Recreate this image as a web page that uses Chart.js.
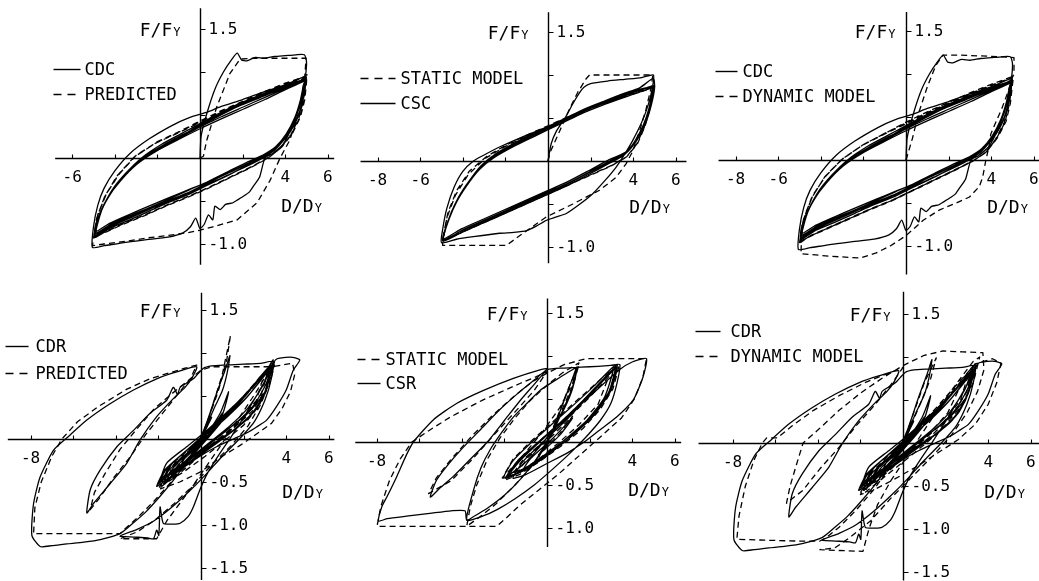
<!DOCTYPE html>
<html>
<head>
<meta charset="utf-8">
<script src="https://cdn.jsdelivr.net/npm/chart.js@4.4.1/dist/chart.umd.min.js"></script>
<style>
  html, body { margin: 0; padding: 0; background: #fff; overflow: hidden; width: 1039px; height: 581px; }
  #stage { position: relative; width: 1039px; height: 581px; overflow: hidden; background: #fff; }
  #stage canvas { position: absolute; }
</style>
</head>
<body>
<div id="stage"></div>
<script>
// Hysteresis records: x = D/Dy (ductility), y = F/Fy (normalised force)

// CDC test record (constant-amplitude dynamic cycling)
const cdcMeasured = [
  [0,0],[0.05,0.25],[0.3,0.5],[0.7,0.8],[1.1,1.0],[1.5,1.15],[1.75,1.22],[1.95,1.14],[2.2,1.13],[2.6,1.17],[3.0,1.16],[3.5,1.18],[4.0,1.19],[4.5,1.2],[4.9,1.2],[5.0,1.12],
  [4.95,0.95],[4.8,0.75],[4.6,0.55],[4.3,0.35],[3.9,0.16],[3.4,0.05],[3.05,0.0],[2.8,-0.22],[2.5,-0.33],[2.3,-0.4],[2.0,-0.45],[1.55,-0.52],[1.2,-0.54],[0.95,-0.6],[0.7,-0.56],[0.6,-0.72],[0.4,-0.66],[0.2,-0.77],[0.0,-0.82],[-0.2,-0.7],[-0.45,-0.8],[-0.8,-0.87],[-1.5,-0.92],[-2.5,-0.95],[-3.5,-0.98],[-4.5,-1.02],[-5.05,-1.04],
  [-5.0,-0.8],[-4.8,-0.55],[-4.5,-0.35],[-4.0,-0.15],[-3.3,0.05],[-2.4,0.22],[-1.3,0.38],[-0.5,0.47],[0.3,0.53],[1.0,0.6],[2.0,0.68],[3.0,0.77],[4.0,0.85],[4.95,0.95],
  [4.92,0.89],[4.78,0.7],[4.55,0.51],[4.15,0.3],[3.68,0.14],[3.13,0.03],[2.34,-0.07],[1.41,-0.19],[0.47,-0.3],[-0.47,-0.4],[-1.41,-0.5],[-2.34,-0.59],[-3.28,-0.69],[-4.22,-0.79],[-4.95,-0.9],
  [-4.7,-0.65],[-4.22,-0.42],[-3.6,-0.22],[-2.8,-0.03],[-1.9,0.12],[-0.95,0.24],[0,0.39],[0.95,0.51],[1.75,0.62],[2.8,0.72],[3.75,0.82],[4.7,0.9],[4.96,0.93],
  [4.86,0.85],[4.7,0.66],[4.45,0.47],[4.05,0.28],[3.55,0.13],[3.0,0.04],[2.2,-0.05],[1.3,-0.16],[0.4,-0.27],[-0.5,-0.37],[-1.4,-0.47],[-2.3,-0.57],[-3.3,-0.67],[-4.2,-0.77],[-4.88,-0.87],
  [-4.6,-0.6],[-4.1,-0.38],[-3.5,-0.19],[-2.7,0.0],[-1.8,0.14],[-0.9,0.26],[0,0.37],[0.9,0.49],[1.8,0.6],[2.8,0.7],[3.8,0.8],[4.7,0.88],[4.92,0.91],
  [4.95,0.9],[4.85,0.72],[4.62,0.5],[4.22,0.3],[3.72,0.15],[3.2,0.04],[2.4,-0.06],[1.5,-0.18],[0.5,-0.29],[-0.5,-0.4],[-1.5,-0.5],[-2.4,-0.6],[-3.3,-0.7],[-4.2,-0.8],[-4.92,-0.91],
  [-4.76,-0.68],[-4.3,-0.45],[-3.7,-0.25],[-2.9,-0.05],[-2.0,0.1],[-1.0,0.23],[0,0.36],[1.0,0.48],[2.0,0.59],[3.0,0.7],[4.0,0.81],[4.8,0.9],[5.0,0.94],
  [4.9,0.87],[4.76,0.68],[4.5,0.49],[4.1,0.29],[3.6,0.13],[3.06,0.03],[2.3,-0.06],[1.35,-0.17],[0.45,-0.28],[-0.45,-0.39],[-1.45,-0.49],[-2.35,-0.58],[-3.25,-0.68],[-4.2,-0.78],[-4.9,-0.88],
  [-4.66,-0.63],[-4.18,-0.4],[-3.55,-0.21],[-2.75,-0.02],[-1.85,0.13],[-0.92,0.25],[0,0.38],[0.92,0.5],[1.78,0.61],[2.8,0.71],[3.78,0.81],[4.72,0.89],[4.9,0.9],
  [4.96,0.88],[4.86,0.7],[4.64,0.5],[4.25,0.31],[3.76,0.16],[3.25,0.06],[2.45,-0.04],[1.55,-0.15],[0.55,-0.26],[-0.45,-0.36],[-1.45,-0.46],[-2.4,-0.56],[-3.35,-0.66],[-4.25,-0.76],[-4.94,-0.86],
  [-4.8,-0.7],[-4.35,-0.47],[-3.75,-0.27],[-2.95,-0.07],[-2.05,0.08],[-1.05,0.21],[0,0.34],[1.05,0.46],[2.05,0.57],[3.05,0.68],[4.05,0.8],[4.85,0.89],[5.0,0.92],
  [4.88,0.84],[4.72,0.64],[4.48,0.46],[4.08,0.27],[3.58,0.11],[3.02,0.01],[2.25,-0.09],[1.3,-0.2],[0.4,-0.31],[-0.5,-0.42],[-1.5,-0.52],[-2.4,-0.62],[-3.3,-0.72],[-4.25,-0.82],[-4.93,-0.92],
  [-4.62,-0.6],[-4.12,-0.37],[-3.5,-0.18],[-2.7,0.01],[-1.8,0.16],[-0.9,0.28],[0,0.4],[0.9,0.52],[1.8,0.63],[2.8,0.73],[3.8,0.83],[4.7,0.9],[4.92,0.92]
];

const cdcPredicted = [
  [0,0],[0.16,0.02],[0.31,0.2],[0.78,0.59],[1.4,0.98],[1.88,1.15],[2.5,1.16],[3.5,1.16],[4.5,1.16],[4.98,1.16],
  [4.92,0.95],[4.78,0.72],[4.55,0.45],[4.2,0.2],[3.76,0.0],[3.29,-0.26],[2.68,-0.52],[1.74,-0.72],[0.61,-0.8],[0,-0.84],[-0.61,-0.87],[-1.5,-0.9],[-2.5,-0.93],[-3.5,-0.97],[-4.5,-1.0],[-5.05,-1.02],
  [-4.98,-0.9],[-4.82,-0.68],[-4.45,-0.44],[-3.85,-0.2],[-3.05,0.02],[-2.05,0.18],[-1.0,0.3],[0,0.42],[1.0,0.54],[2.0,0.65],[3.0,0.76],[4.0,0.86],[4.9,0.94],[5.02,0.97],
  [5.0,0.88],[4.92,0.68],[4.72,0.48],[4.35,0.29],[3.85,0.13],[3.3,0.02],[2.5,-0.09],[1.5,-0.21],[0.5,-0.33],[-0.5,-0.44],[-1.5,-0.54],[-2.5,-0.65],[-3.5,-0.75],[-4.4,-0.85],[-4.98,-0.93],
  [-4.85,-0.7],[-4.48,-0.45],[-3.9,-0.21],[-3.1,0.01],[-2.1,0.17],[-1.05,0.29],[0,0.41],[1.05,0.53],[2.05,0.64],[3.05,0.75],[4.05,0.85],[4.92,0.93],[5.0,0.95],
  [4.97,0.86],[4.88,0.67],[4.68,0.47],[4.3,0.28],[3.8,0.12],[3.25,0.01],[2.45,-0.1],[1.45,-0.22],[0.45,-0.34],[-0.55,-0.45],[-1.55,-0.55],[-2.55,-0.66],[-3.55,-0.76],[-4.45,-0.86],[-4.98,-0.92],
  [-4.8,-0.66],[-4.4,-0.42],[-3.8,-0.19],[-3.0,0.03],[-2.0,0.19],[-0.95,0.31],[0,0.43],[1.0,0.55],[2.0,0.66],[3.0,0.77],[4.0,0.87],[4.95,0.95],
  [4.94,0.84],[4.84,0.66],[4.64,0.46],[4.26,0.27],[3.76,0.11],[3.2,0.0],[2.4,-0.11],[1.4,-0.23],[0.4,-0.35],[-0.6,-0.46],[-1.6,-0.56],[-2.6,-0.67],[-3.6,-0.77],[-4.5,-0.87],[-4.98,-0.92]
];

const cdcDynamicModel = [
  [0,0],[0.1,0.08],[0.3,0.25],[0.6,0.55],[1.0,0.85],[1.4,1.1],[1.74,1.22],[2.5,1.22],[3.5,1.21],[4.5,1.2],[5.07,1.19],
  [5.07,1.02],[4.8,0.8],[4.5,0.6],[4.15,0.4],[3.98,0.3],[3.9,0.16],[3.75,0.0],[3.6,-0.2],[3.44,-0.31],[2.98,-0.43],[2.36,-0.5],[1.58,-0.58],[0.81,-0.7],[0,-0.88],[-0.74,-1.0],[-1.4,-1.08],[-2.14,-1.14],[-3.5,-1.12],[-4.93,-1.09],
  [-4.9,-0.85],[-4.72,-0.62],[-4.35,-0.4],[-3.75,-0.18],[-2.95,0.02],[-2.0,0.18],[-1.0,0.31],[0,0.43],[1.0,0.55],[2.0,0.66],[3.0,0.77],[4.0,0.87],[4.9,0.95],[5.05,0.98],
  [5.0,0.88],[4.9,0.66],[4.7,0.45],[4.3,0.26],[3.8,0.1],[3.2,0.0],[2.4,-0.1],[1.4,-0.22],[0.4,-0.34],[-0.6,-0.46],[-1.6,-0.56],[-2.6,-0.67],[-3.6,-0.78],[-4.5,-0.88],[-5.0,-0.97],
  [-4.85,-0.72],[-4.45,-0.45],[-3.85,-0.21],[-3.05,0.0],[-2.05,0.17],[-1.02,0.3],[0,0.42],[1.02,0.54],[2.02,0.65],[3.02,0.76],[4.02,0.86],[4.95,0.96],
  [4.95,0.86],[4.85,0.65],[4.65,0.44],[4.25,0.25],[3.75,0.09],[3.15,-0.01],[2.35,-0.11],[1.35,-0.23],[0.35,-0.35],[-0.65,-0.47],[-1.65,-0.57],[-2.65,-0.68],[-3.65,-0.79],[-4.55,-0.89],[-5.0,-0.96],
  [-4.8,-0.68],[-4.4,-0.43],[-3.8,-0.19],[-3.0,0.01],[-2.0,0.18],[-0.98,0.31],[0,0.44],[1.0,0.56],[2.0,0.67],[3.0,0.78],[4.0,0.88],[5.0,0.97],
  [4.92,0.84],[4.8,0.64],[4.6,0.43],[4.2,0.24],[3.7,0.08],[3.1,-0.02],[2.3,-0.12],[1.3,-0.24],[0.3,-0.36],[-0.7,-0.48],[-1.7,-0.58],[-2.7,-0.69],[-3.7,-0.8],[-4.6,-0.9],[-5.0,-0.95]
];

// CSC test record (constant-amplitude static cycling)
const cscMeasured = [
  [0,0],[0.15,0.2],[0.4,0.35],[0.8,0.5],[1.2,0.68],[1.5,0.8],[1.7,0.86],[2.0,0.9],[2.8,0.93],[3.6,0.95],[4.4,0.97],[4.95,1.0],
  [4.9,0.85],[4.7,0.65],[4.4,0.45],[3.98,0.24],[3.6,0.08],[3.2,-0.07],[2.7,-0.22],[2.1,-0.38],[1.5,-0.5],[0.86,-0.61],[0.4,-0.65],[-0.08,-0.69],[-0.5,-0.75],[-1.0,-0.81],[-1.6,-0.83],[-2.27,-0.84],[-3.5,-0.88],[-4.3,-0.91],[-5.0,-0.95],
  [-4.95,-0.8],[-4.75,-0.55],[-4.4,-0.3],[-4.0,-0.12],[-3.5,0.0],[-3.0,0.07],[-2.3,0.16],[-1.3,0.27],[0,0.4],[1.0,0.5],[1.7,0.58],[2.5,0.68],[3.5,0.78],[4.3,0.85],[4.95,0.96],
  [5.0,0.84],[4.85,0.65],[4.6,0.45],[4.2,0.25],[3.7,0.1],[2.9,0.0],[2.0,-0.12],[1.0,-0.25],[0,-0.36],[-1.0,-0.47],[-2.0,-0.58],[-3.0,-0.69],[-4.0,-0.8],[-4.95,-0.93],
  [-4.7,-0.7],[-4.3,-0.47],[-3.8,-0.27],[-3.2,-0.08],[-2.5,0.06],[-1.5,0.2],[-0.5,0.32],[0.5,0.44],[1.5,0.56],[2.5,0.66],[3.5,0.75],[4.3,0.82],[5.0,0.88],
  [4.95,0.8],[4.8,0.62],[4.55,0.43],[4.15,0.24],[3.65,0.09],[2.85,-0.01],[1.95,-0.13],[0.95,-0.26],[-0.05,-0.37],[-1.05,-0.48],[-2.05,-0.59],[-3.05,-0.7],[-4.05,-0.81],[-4.92,-0.92],
  [-4.65,-0.67],[-4.25,-0.45],[-3.75,-0.25],[-3.15,-0.06],[-2.45,0.07],[-1.45,0.21],[-0.45,0.33],[0.55,0.45],[1.55,0.57],[2.55,0.67],[3.55,0.76],[4.35,0.83],[4.98,0.87],
  [4.92,0.78],[4.76,0.6],[4.5,0.41],[4.1,0.22],[3.6,0.08],[2.8,-0.02],[1.9,-0.14],[0.9,-0.27],[-0.1,-0.38],[-1.1,-0.49],[-2.1,-0.6],[-3.1,-0.71],[-4.1,-0.82],[-4.9,-0.91],
  [-4.6,-0.64],[-4.2,-0.42],[-3.7,-0.23],[-3.1,-0.05],[-2.4,0.08],[-1.4,0.22],[-0.4,0.34],[0.6,0.46],[1.6,0.58],[2.6,0.68],[3.6,0.77],[4.4,0.83],[4.95,0.86],
  [4.9,0.8],[4.74,0.61],[4.48,0.42],[4.08,0.23],[3.58,0.07],[2.78,-0.04],[1.88,-0.16],[0.88,-0.29],[-0.12,-0.4],[-1.12,-0.51],[-2.12,-0.62],[-3.12,-0.73],[-4.12,-0.84],[-4.92,-0.93],
  [-4.72,-0.72],[-4.32,-0.49],[-3.82,-0.29],[-3.22,-0.1],[-2.52,0.04],[-1.52,0.18],[-0.52,0.3],[0.48,0.42],[1.48,0.54],[2.48,0.64],[3.48,0.73],[4.3,0.8],[4.96,0.85],
  [4.94,0.79],[4.79,0.62],[4.53,0.43],[4.13,0.24],[3.63,0.1],[2.83,0.01],[1.93,-0.11],[0.93,-0.24],[-0.07,-0.35],[-1.07,-0.46],[-2.07,-0.57],[-3.07,-0.68],[-4.07,-0.79],[-4.9,-0.9],
  [-4.62,-0.66],[-4.22,-0.44],[-3.72,-0.24],[-3.12,-0.05],[-2.42,0.09],[-1.42,0.23],[-0.42,0.35],[0.58,0.47],[1.58,0.59],[2.58,0.69],[3.58,0.78],[4.38,0.84],[4.95,0.87]
];

const staticModelCsc = [
  [0,0],[0.1,0.1],[0.55,0.35],[1.0,0.6],[1.4,0.8],[1.8,0.96],[1.95,1.0],[3.0,1.0],[4.0,1.0],[4.92,1.0],
  [4.85,0.86],[4.6,0.6],[4.3,0.35],[3.95,0.1],[3.67,-0.03],[3.2,-0.19],[2.42,-0.34],[1.17,-0.5],[-0.08,-0.65],[-1.0,-0.81],[-1.95,-0.98],[-3.0,-0.98],[-4.0,-0.98],[-4.95,-0.98],
  [-4.9,-0.85],[-4.7,-0.6],[-4.3,-0.35],[-3.7,-0.12],[-2.9,0.05],[-2.0,0.18],[-1.0,0.3],[0,0.41],[1.0,0.52],[2.0,0.62],[3.0,0.71],[4.0,0.79],[4.95,0.86],
  [4.9,0.8],[4.78,0.6],[4.55,0.4],[4.2,0.2],[3.7,0.05],[3.0,-0.05],[2.0,-0.16],[1.0,-0.27],[0,-0.38],[-1.0,-0.49],[-2.0,-0.6],[-3.0,-0.71],[-4.0,-0.82],[-4.92,-0.93],
  [-4.75,-0.66],[-4.35,-0.4],[-3.75,-0.16],[-2.95,0.03],[-2.0,0.17],[-1.0,0.29],[0,0.4],[1.0,0.51],[2.0,0.61],[3.0,0.7],[4.0,0.78],[4.95,0.85],
  [4.88,0.78],[4.75,0.58],[4.5,0.38],[4.15,0.19],[3.65,0.04],[2.95,-0.06],[1.95,-0.17],[0.95,-0.28],[-0.05,-0.39],[-1.05,-0.5],[-2.05,-0.61],[-3.05,-0.72],[-4.05,-0.83],[-4.9,-0.92]
];

// CDR test record (random dynamic loading)
const cdrMeasured = [
  [0,0],[0.3,0.15],[-0.2,-0.1],[0.5,0.25],[-0.4,-0.2],[0.1,0.05],
  [-0.2,-0.09],[0.19,0.14],[0.42,0.3],[0.66,0.48],[0.89,0.64],[1.13,0.8],[1.36,0.97],[1.22,0.76],[1.0,0.56],[0.66,0.38],[0.3,0.18],[0,0.02],
  [-0.5,-0.2],[-1.2,-0.45],[-1.9,-0.66],[-2.6,-0.85],[-3.2,-0.98],[-3.8,-1.1],
  [-4.73,-1.17],[-5.5,-1.2],[-6.3,-1.22],[-7.0,-1.24],[-7.55,-1.25],[-7.94,-1.12],
  [-7.86,-0.75],[-7.55,-0.44],[-6.92,-0.13],[-6.22,0.03],[-5.36,0.22],[-4.27,0.41],[-3.17,0.57],[-2.08,0.7],[-1.14,0.78],[-0.2,0.84],
  [-0.4,0.72],[-0.75,0.6],[-1.3,0.47],[-2.08,0.26],[-2.86,-0.01],[-3.48,-0.28],[-4.27,-0.52],[-5.05,-0.75],[-5.36,-0.86],
  [-5.2,-0.59],[-4.73,-0.36],[-3.95,-0.09],[-3.17,0.1],[-2.39,0.3],[-1.61,0.45],[-1.3,0.6],[-1.1,0.52],[-0.98,0.6],[-0.36,0.7],[0.1,0.82],[0.5,0.85],
  [1.2,0.86],[2.0,0.87],[2.8,0.88],[3.39,0.9],
  [3.3,0.7],[3.0,0.45],[2.5,0.2],[1.8,0.0],[1.0,-0.2],[0.2,-0.42],[-0.6,-0.62],[-1.4,-0.8],[-2.2,-0.95],[-3.0,-1.05],[-3.8,-1.13],
  [-3.17,-1.14],[-2.5,-1.15],[-2.23,-1.16],[-2.08,-1.06],[-1.98,-1.12],[-1.92,-0.79],[-1.77,-0.98],[-1.3,-0.99],[-0.98,-0.98],[-0.6,-0.9],[-0.36,-0.79],[-0.05,-0.59],[0.3,-0.4],[0.8,-0.2],[1.4,0.02],[2.0,0.25],[2.6,0.5],[3.1,0.72],[3.45,0.9],
  [3.23,0.72],[2.92,0.49],[2.3,0.26],[1.52,0.1],[0.58,-0.05],[-0.36,-0.21],[-1.3,-0.36],[-1.92,-0.5],
  [-1.61,-0.28],[-0.67,-0.09],[0.27,0.1],[1.52,0.38],[2.45,0.61],[3.08,0.8],[3.39,0.92],
  [3.1,0.6],[2.6,0.35],[1.8,0.15],[0.9,-0.02],[0,-0.18],[-0.9,-0.33],[-1.7,-0.5],
  [-1.4,-0.3],[-0.5,-0.1],[0.4,0.08],[1.3,0.28],[2.2,0.5],[2.9,0.72],[3.3,0.85],
  [3.0,0.55],[2.4,0.3],[1.5,0.1],[0.6,-0.06],[-0.3,-0.22],[-1.2,-0.4],[-1.85,-0.55],
  [-1.5,-0.32],[-0.6,-0.12],[0.3,0.06],[1.2,0.25],[2.1,0.47],[2.8,0.68],[3.25,0.82],[3.5,0.92],[3.7,0.94],[4.3,0.95],[4.64,0.92],
  [4.33,0.8],[4.0,0.57],[3.55,0.38],[3.08,0.22],[2.61,0.14],[2.14,0.07],[1.52,0.0],[0.73,-0.09],[-0.05,-0.2],[-0.98,-0.36],[-1.77,-0.5],[-2.08,-0.55],
  [-1.7,-0.36],[-0.9,-0.18],[0,0.02],[1.0,0.25],[2.0,0.5],[2.8,0.72],[3.3,0.86],
  [3.0,0.55],[2.2,0.3],[1.2,0.1],[0.2,-0.1],[-0.8,-0.3],[-1.6,-0.48],
  [-1.2,-0.3],[-0.2,-0.08],[0.8,0.16],[1.8,0.42],[2.6,0.66],[3.2,0.84],
  [2.9,0.62],[2.2,0.36],[1.3,0.14],[0.3,-0.06],[-0.7,-0.26],[-1.6,-0.44],[-2.0,-0.52],
  [-1.6,-0.34],[-0.8,-0.16],[0.2,0.06],[1.1,0.26],[1.9,0.46],[2.7,0.7],[3.35,0.88],
  [3.05,0.64],[2.5,0.4],[1.7,0.2],[0.7,0.0],[-0.3,-0.2],[-1.3,-0.38],[-1.9,-0.48],
  [-1.1,-0.26],[0.1,0.0],[0.9,0.3],[1.3,0.55],[1.0,0.28],[0.3,0.02],[-0.6,-0.22],[-1.4,-0.42],
  [-1.0,-0.28],[0,-0.05],[0.8,0.15],[1.5,0.38],[0.9,0.18],[0,-0.08],[-1.0,-0.35],[-0.6,-0.15],[0.5,0.12],[1.0,0.3],[0.4,0.05],[-0.4,-0.18],[0,0]
];

const cdrPredicted = [
  [0,0],[0.3,0.17],[-0.2,-0.1],[0.5,0.28],[-0.4,-0.2],[0.1,0.05],
  [0.5,0.35],[1.0,0.75],[1.38,1.2],[1.2,0.9],[0.8,0.55],[0.3,0.2],[0,0.02],
  [-0.6,-0.25],[-1.4,-0.5],[-2.2,-0.72],[-3.0,-0.92],[-3.6,-1.05],[-3.8,-1.1],
  [-5.0,-1.1],[-6.5,-1.1],[-7.86,-1.1],
  [-7.8,-0.8],[-7.5,-0.5],[-7.0,-0.2],[-6.53,0.0],[-5.8,0.2],[-4.8,0.38],[-3.48,0.58],[-2.4,0.7],[-1.61,0.76],[-0.8,0.82],[-0.2,0.86],
  [-0.5,0.7],[-1.0,0.55],[-1.8,0.3],[-2.6,0.05],[-3.3,-0.2],[-4.1,-0.45],[-4.8,-0.7],[-5.2,-0.82],
  [-5.0,-0.62],[-4.5,-0.4],[-3.8,-0.12],[-3.0,0.12],[-2.2,0.35],[-1.4,0.52],[-0.6,0.68],[0,0.8],[0.5,0.84],
  [1.5,0.84],[2.5,0.84],[3.39,0.84],
  [3.2,0.65],[2.8,0.4],[2.2,0.15],[1.4,-0.08],[0.5,-0.3],[-0.4,-0.55],[-1.3,-0.76],[-2.2,-0.95],[-3.0,-1.08],[-3.8,-1.16],
  [-3.0,-1.16],[-2.08,-1.16],
  [-1.6,-0.95],[-1.0,-0.75],[-0.4,-0.55],[0.3,-0.3],[1.0,-0.05],[1.8,0.25],[2.6,0.55],[3.2,0.8],[3.45,0.86],
  [3.2,0.62],[2.7,0.38],[2.0,0.16],[1.1,-0.02],[0.2,-0.2],[-0.8,-0.38],[-1.7,-0.52],
  [-1.3,-0.3],[-0.4,-0.1],[0.5,0.1],[1.4,0.32],[2.3,0.56],[3.0,0.76],[3.35,0.85],
  [3.05,0.58],[2.4,0.32],[1.5,0.12],[0.6,-0.06],[-0.4,-0.25],[-1.3,-0.42],[-1.95,-0.56],
  [-1.4,-0.3],[-0.4,-0.08],[0.6,0.14],[1.6,0.38],[2.5,0.62],[3.3,0.84],[4.3,0.88],
  [4.4,0.75],[4.2,0.55],[3.8,0.35],[3.3,0.18],[2.45,0.03],[1.8,-0.08],[1.0,-0.2],[0,-0.38],[-1.0,-0.5],[-1.9,-0.58],
  [-1.4,-0.36],[-0.5,-0.14],[0.5,0.1],[1.5,0.35],[2.4,0.6],[3.0,0.78],
  [2.6,0.45],[1.8,0.2],[0.8,0.0],[-0.2,-0.2],[-1.2,-0.42],[-1.8,-0.54],
  [-1.2,-0.3],[-0.2,-0.06],[0.8,0.18],[1.8,0.44],[2.7,0.7],[3.2,0.82],
  [2.8,0.5],[2.0,0.24],[1.0,0.02],[0,-0.18],[-1.0,-0.4],[-1.6,-0.5],
  [-0.7,-0.2],[0.3,0.05],[1.2,0.3],[0.6,0.1],[-0.4,-0.16],[0,0]
];

const cdrDynamicModel = [
  [0,0],[0.3,0.17],[-0.2,-0.1],[0.5,0.28],[-0.4,-0.2],[0.1,0.05],
  [0.5,0.35],[1.0,0.7],[1.56,0.99],[1.3,0.75],[0.8,0.45],[0.2,0.1],
  [-0.6,-0.28],[-1.4,-0.55],[-2.2,-0.78],[-3.0,-0.98],[-3.6,-1.1],[-3.9,-1.14],
  [-5.0,-1.14],[-6.5,-1.13],[-7.8,-1.12],
  [-7.7,-0.85],[-7.4,-0.5],[-7.0,-0.2],[-6.6,0.0],[-6.4,0.06],[-5.9,0.06],[-5.2,0.2],[-4.2,0.38],[-3.0,0.55],[-1.8,0.7],[-0.6,0.82],[0,0.88],
  [-0.5,0.7],[-1.3,0.45],[-2.2,0.2],[-3.0,-0.05],[-3.9,-0.3],[-4.7,-0.55],[-5.47,-0.7],
  [-5.3,-0.5],[-5.0,-0.25],[-4.69,0.0],[-4.0,0.15],[-3.0,0.38],[-2.0,0.58],[-1.0,0.75],[0,0.9],[1.0,1.02],[1.88,1.07],
  [2.8,1.06],[3.75,1.05],
  [3.8,0.85],[3.5,0.6],[3.0,0.35],[2.3,0.1],[1.4,-0.15],[0.4,-0.4],[-0.6,-0.65],[-1.5,-0.9],[-2.5,-1.1],[-3.2,-1.22],[-3.9,-1.24],
  [-3.0,-1.25],[-1.88,-1.26],
  [-1.6,-1.0],[-1.2,-0.72],[-0.6,-0.45],[0.2,-0.15],[1.0,0.15],[1.8,0.45],[2.6,0.72],[3.3,0.95],[3.6,1.0],
  [3.3,0.7],[2.7,0.42],[1.9,0.18],[1.0,-0.02],[0,-0.22],[-1.0,-0.42],[-1.8,-0.58],
  [-1.3,-0.32],[-0.3,-0.08],[0.7,0.16],[1.7,0.42],[2.6,0.68],[3.3,0.9],
  [3.0,0.6],[2.3,0.32],[1.4,0.1],[0.4,-0.1],[-0.6,-0.3],[-1.6,-0.5],[-2.0,-0.58],
  [-1.4,-0.32],[-0.4,-0.08],[0.6,0.16],[1.6,0.42],[2.6,0.7],[3.4,0.92],[4.2,0.98],[4.6,0.93],
  [4.4,0.7],[4.0,0.45],[3.4,0.22],[2.6,0.04],[1.6,-0.12],[0.6,-0.28],[-0.4,-0.42],[-1.4,-0.55],[-2.0,-0.6],
  [-1.4,-0.36],[-0.4,-0.1],[0.6,0.15],[1.6,0.4],[2.5,0.65],[3.1,0.82],
  [2.7,0.5],[1.9,0.24],[0.9,0.02],[-0.1,-0.2],[-1.1,-0.42],[-1.7,-0.52],
  [-1.1,-0.28],[-0.1,-0.04],[0.9,0.2],[1.9,0.46],[2.8,0.72],
  [2.1,0.35],[1.2,0.1],[0.2,-0.12],[-0.9,-0.36],
  [-0.4,-0.12],[0.6,0.14],[1.2,0.32],[0.5,0.08],[-0.3,-0.12],[0,0]
];

// CSR test record (random static loading)
const csrMeasured = [
  [0,0],[0.3,0.12],[-0.2,-0.08],[0.5,0.2],[-0.4,-0.17],[0.1,0.04],
  [0.3,0.15],[0.8,0.48],[1.2,0.74],[1.39,0.87],[1.2,0.64],[0.8,0.4],[0.2,0.08],
  [-0.5,-0.2],[-1.2,-0.42],[-2.0,-0.62],[-2.8,-0.77],[-3.4,-0.86],[-3.77,-0.91],
  [-3.85,-0.8],[-4.5,-0.8],[-5.5,-0.83],[-6.5,-0.86],[-7.5,-0.89],[-7.91,-0.92],
  [-7.75,-0.75],[-7.52,-0.64],[-7.05,-0.4],[-6.6,-0.15],[-6.27,0.0],[-5.33,0.26],[-4.23,0.45],[-2.98,0.6],[-1.58,0.74],[-0.33,0.84],[0,0.85],
  [-0.5,0.7],[-1.2,0.5],[-2.0,0.25],[-2.8,0.0],[-3.6,-0.2],[-4.4,-0.4],[-5.0,-0.53],[-5.48,-0.64],
  [-5.2,-0.45],[-4.7,-0.28],[-4.0,-0.08],[-3.14,0.14],[-2.2,0.38],[-1.3,0.58],[-0.6,0.72],[0,0.84],
  [0.8,0.86],[1.6,0.87],[2.4,0.88],[3.0,0.89],[3.42,0.9],
  [3.3,0.7],[3.0,0.45],[2.5,0.25],[1.8,0.05],[1.0,-0.15],[0.2,-0.33],[-0.6,-0.5],[-1.5,-0.66],[-2.3,-0.78],[-3.0,-0.86],[-3.77,-0.91],
  [-3.45,-0.56],[-3.1,-0.3],[-2.67,-0.09],[-2.1,0.12],[-1.58,0.29],[-0.9,0.46],[-0.33,0.6],[0.4,0.72],[0.92,0.8],[1.39,0.86],
  [1.2,0.62],[0.8,0.38],[0.2,0.12],[-0.5,-0.1],[-1.2,-0.28],[-2.05,-0.42],
  [-1.6,-0.22],[-0.8,-0.02],[0.2,0.2],[1.2,0.42],[2.2,0.65],[3.0,0.85],[3.3,0.9],
  [3.0,0.62],[2.4,0.38],[1.6,0.18],[0.6,-0.02],[-0.4,-0.2],[-1.4,-0.36],[-1.9,-0.4],
  [-1.3,-0.2],[-0.3,0.02],[0.8,0.25],[1.8,0.5],[2.8,0.76],[3.2,0.86],
  [2.9,0.58],[2.1,0.3],[1.1,0.08],[0,-0.14],[-1.0,-0.3],[-1.7,-0.36],
  [-1.2,-0.2],[0,0.08],[1.2,0.35],[2.4,0.62],[3.4,0.84],[4.0,0.93],[4.67,0.97],
  [4.5,0.75],[4.05,0.49],[3.27,0.29],[2.48,0.14],[1.86,0.02],[1.0,-0.12],[0,-0.25],[-1.0,-0.38],[-1.6,-0.42],
  [-1.1,-0.22],[-0.1,0.02],[1.0,0.28],[2.0,0.54],[2.9,0.78],[3.3,0.87],
  [3.0,0.6],[2.3,0.34],[1.4,0.12],[0.4,-0.08],[-0.6,-0.26],[-1.5,-0.38],[-1.95,-0.42],
  [-1.4,-0.24],[-0.4,0.0],[0.6,0.22],[1.6,0.46],[2.6,0.72],[3.1,0.84],
  [2.7,0.52],[1.9,0.26],[0.9,0.04],[-0.1,-0.16],[-1.1,-0.32],
  [-0.8,-0.2],[0.3,0.05],[1.2,0.28],[0.6,0.08],[-0.4,-0.15],[0.2,0.02],[0,0]
];

const staticModelCsr = [
  [0,0],[0.3,0.14],[-0.2,-0.09],[0.5,0.22],[-0.4,-0.18],[0.1,0.05],
  [0.5,0.3],[1.0,0.62],[1.5,0.9],[1.25,0.68],[0.75,0.4],[0.2,0.1],
  [-0.6,-0.25],[-1.5,-0.5],[-2.4,-0.72],[-3.2,-0.88],[-3.77,-0.98],
  [-5.0,-0.98],[-6.5,-0.98],[-7.98,-0.98],
  [-7.8,-0.75],[-7.4,-0.45],[-6.9,-0.2],[-6.34,0.0],[-5.5,0.14],[-4.54,0.29],[-3.0,0.49],[-1.27,0.68],[-0.5,0.76],[0,0.82],
  [-0.6,0.6],[-1.5,0.35],[-2.5,0.08],[-3.5,-0.2],[-4.5,-0.45],[-5.56,-0.6],
  [-5.2,-0.42],[-4.5,-0.2],[-3.6,0.05],[-2.6,0.3],[-1.6,0.52],[-0.7,0.7],[0,0.8],[0.8,0.9],[1.86,0.97],
  [3.0,0.97],[4.0,0.97],[4.67,0.97],
  [4.5,0.75],[4.1,0.5],[3.5,0.28],[2.6,0.08],[1.6,-0.14],[0.6,-0.36],[-0.4,-0.56],[-1.3,-0.74],[-1.9,-0.88],[-2.36,-0.98],[-3.77,-0.98],
  [-3.6,-0.75],[-3.3,-0.5],[-2.8,-0.2],[-2.2,0.05],[-1.5,0.28],[-0.8,0.48],[0,0.66],[0.7,0.8],[1.5,0.92],
  [1.2,0.68],[0.6,0.4],[-0.2,0.12],[-1.0,-0.12],[-1.8,-0.34],[-2.1,-0.42],
  [-1.6,-0.2],[-0.7,0.02],[0.3,0.24],[1.3,0.46],[2.3,0.68],[3.1,0.86],[3.4,0.9],
  [3.1,0.62],[2.5,0.38],[1.7,0.16],[0.7,-0.04],[-0.3,-0.22],[-1.3,-0.38],[-1.95,-0.44],
  [-1.4,-0.22],[-0.4,0.0],[0.7,0.24],[1.7,0.48],[2.7,0.74],[3.3,0.88],
  [2.9,0.56],[2.1,0.28],[1.1,0.06],[0,-0.16],[-1.0,-0.32],[-1.7,-0.4],
  [-1.1,-0.2],[0.0,0.04],[1.0,0.28],[2.0,0.52],[2.9,0.76],
  [2.4,0.44],[1.5,0.2],[0.5,-0.02],[-0.5,-0.22],[-1.4,-0.36],
  [-0.9,-0.18],[0.2,0.06],[1.2,0.3],[0.6,0.1],[-0.4,-0.16],[0,0]
];

// Axis ticks and labelled values
const xTickValues = [-8, -6, -4, -2, 2, 4, 6];
const yTickValues = [1.5, 1.0, 0.5, -0.5, -1.0, -1.5];
const xLabelsNarrow = [-6, 4, 6];
const xLabelsWide = [-8, -6, 4, 6];
const xLabelsRandom = [-8, 4, 6];
const yLabelsTop = [1.5, -1.0];
const yLabelsFull = [1.5, -0.5, -1.0, -1.5];
const yLabelsMid = [1.5, -0.5, -1.0];

// ---- layout ----
const SX = 21.3, SY = 86;          // pixels per D/Dy unit, per F/Fy unit
const W = 364, H = 310, OX = 213, OY = 159;   // canvas size and origin offset inside it
const FONT = '"DejaVu Sans Mono", monospace';
const INK = '#000';

const panels = [
  { origin: [200, 158], xSpan: [-6.8, 6.3], ySpan: [1.74, -1.24], xLabels: xLabelsNarrow, yLabels: yLabelsTop,
    fRight: -20, dDown: 46, legend: { x: -147, y: -90, gap: 25, sample: 27, pad: 4 },
    series: [['CDC', cdcMeasured, false], ['PREDICTED', cdcPredicted, true]] },
  { origin: [548, 161], xSpan: [-8.8, 6.5], ySpan: [1.73, -1.19], xLabels: xLabelsWide, yLabels: yLabelsTop,
    fRight: -20, dDown: 44, legend: { x: -188, y: -84, gap: 25, sample: 35, pad: 5 },
    series: [['STATIC MODEL', staticModelCsc, true], ['CSC', cscMeasured, false]] },
  { origin: [906, 160], xSpan: [-8.8, 7.2], ySpan: [1.72, -1.33], xLabels: xLabelsWide, yLabels: yLabelsTop,
    fRight: -11, dDown: 45, legend: { x: -191, y: -90, gap: 25, sample: 22, pad: 5 },
    series: [['CDC', cdcMeasured, false], ['DYNAMIC MODEL', cdcDynamicModel, true]] },
  { origin: [201, 439], xSpan: [-9.07, 6.26], ySpan: [1.70, -1.64], xLabels: xLabelsRandom, yLabels: yLabelsFull,
    fRight: -21, dDown: 51, legend: { x: -196, y: -94, gap: 27, sample: 23, pad: 7 },
    series: [['CDR', cdrMeasured, false], ['PREDICTED', cdrPredicted, true]] },
  { origin: [547, 442], xSpan: [-9.0, 6.3], ySpan: [1.67, -1.22], xLabels: xLabelsRandom, yLabels: yLabelsMid,
    fRight: -20, dDown: 46, legend: { x: -190, y: -84, gap: 24, sample: 23, pad: 5 },
    series: [['STATIC MODEL', staticModelCsr, true], ['CSR', csrMeasured, false]] },
  { origin: [903, 443], xSpan: [-9.6, 7.2], ySpan: [1.76, -1.6], xLabels: xLabelsRandom, yLabels: yLabelsFull,
    fRight: -13, dDown: 47, legend: { x: -208, y: -113, gap: 25, sample: 25, pad: 10 },
    series: [['CDR', cdrMeasured, false], ['DYNAMIC MODEL', cdrDynamicModel, true]] }
];

// draws "main" followed by a smaller capital on the same baseline, e.g. F/F + Y
function drawRatioTitle(ctx, main, small, x, baseline, alignRight) {
  ctx.font = '18px ' + FONT;
  const w1 = ctx.measureText(main).width;
  ctx.font = '12px ' + FONT;
  const w2 = ctx.measureText(small).width;
  const start = alignRight ? x - (w1 + w2 + 1) : x;
  ctx.textAlign = 'left';
  ctx.textBaseline = 'alphabetic';
  ctx.font = '18px ' + FONT;
  ctx.fillText(main, start, baseline);
  ctx.font = '12px ' + FONT;
  ctx.fillText(small, start + w1 + 1, baseline);
}

// Axes crossing at the origin, sparse tick labels, titles and an in-plot legend
const crossAxes = {
  id: 'crossAxes',
  afterDatasetsDraw(chart, args, o) {
    const ctx = chart.ctx;
    const xs = chart.scales.x, ys = chart.scales.y;
    const px = v => xs.getPixelForValue(v);
    const py = v => ys.getPixelForValue(v);
    const ox = Math.round(px(0)) + 0.5, oy = Math.round(py(0)) + 0.5;
    ctx.save();
    ctx.strokeStyle = INK;
    ctx.fillStyle = INK;
    ctx.setLineDash([]);
    ctx.lineWidth = 1.4;
    ctx.beginPath();
    ctx.moveTo(px(o.xSpan[0]), oy); ctx.lineTo(px(o.xSpan[1]), oy);
    ctx.moveTo(ox, py(o.ySpan[0])); ctx.lineTo(ox, py(o.ySpan[1]));
    ctx.stroke();

    ctx.lineWidth = 1.1;
    ctx.beginPath();
    xTickValues.forEach(v => {
      if (v > o.xSpan[0] && v < o.xSpan[1]) {
        const x = Math.round(px(v)) + 0.5;
        ctx.moveTo(x, oy); ctx.lineTo(x, oy - 4);
      }
    });
    yTickValues.forEach(v => {
      if (v < o.ySpan[0] && v > o.ySpan[1]) {
        const y = Math.round(py(v)) + 0.5;
        ctx.moveTo(ox, y); ctx.lineTo(ox + 5, y);
      }
    });
    ctx.stroke();

    ctx.font = '16px ' + FONT;
    ctx.textBaseline = 'middle';
    ctx.textAlign = 'center';
    o.xLabels.forEach(v => ctx.fillText(String(v), px(v), oy + 19));
    ctx.textAlign = 'left';
    o.yLabels.forEach(v => ctx.fillText(v.toFixed(1), ox + 8, py(v) + 1));

    drawRatioTitle(ctx, 'F/F', 'Y', ox + o.fRight, py(1.5) + 7, true);
    drawRatioTitle(ctx, 'D/D', 'Y', px(4) - 4, oy + o.dDown + 7, false);

    const L = o.legend;
    chart.data.datasets.forEach((ds, i) => {
      const y = Math.round(oy + L.y + i * L.gap) + 0.5;
      const x0 = ox + L.x;
      ctx.lineWidth = 1.4;
      ctx.setLineDash(ds.borderDash && ds.borderDash.length ? [8, 6] : []);
      ctx.beginPath();
      ctx.moveTo(x0, y); ctx.lineTo(x0 + L.sample, y);
      ctx.stroke();
      ctx.setLineDash([]);
      ctx.font = '17px ' + FONT;
      ctx.textAlign = 'left';
      ctx.textBaseline = 'middle';
      ctx.fillText(ds.label, x0 + L.sample + L.pad, y + 1);
    });
    ctx.restore();
  }
};

const stage = document.getElementById('stage');
panels.forEach(p => {
  const cv = document.createElement('canvas');
  cv.width = W; cv.height = H;
  cv.style.width = W + 'px'; cv.style.height = H + 'px';
  cv.style.left = (p.origin[0] - OX) + 'px';
  cv.style.top = (p.origin[1] - OY) + 'px';
  stage.appendChild(cv);

  const datasets = p.series.map(([label, pts, dashed]) => ({
    label,
    data: pts.map(([x, y]) => ({ x, y })),
    showLine: true,
    borderColor: INK,
    backgroundColor: INK,
    borderWidth: 1.3,
    borderDash: dashed ? [6, 4] : [],
    borderJoinStyle: 'round',
    pointRadius: 0,
    tension: dashed ? 0 : 0.2,
    fill: false
  }));

  new Chart(cv, {
    type: 'scatter',
    data: { datasets },
    options: {
      responsive: false,
      animation: false,
      devicePixelRatio: 1,
      layout: { padding: 0 },
      scales: {
        x: { type: 'linear', min: -OX / SX, max: (W - OX) / SX, display: false },
        y: { type: 'linear', min: -(H - OY) / SY, max: OY / SY, display: false }
      },
      plugins: {
        legend: { display: false },
        tooltip: { enabled: false },
        crossAxes: p
      }
    },
    plugins: [crossAxes]
  });
});
</script>
</body>
</html>
